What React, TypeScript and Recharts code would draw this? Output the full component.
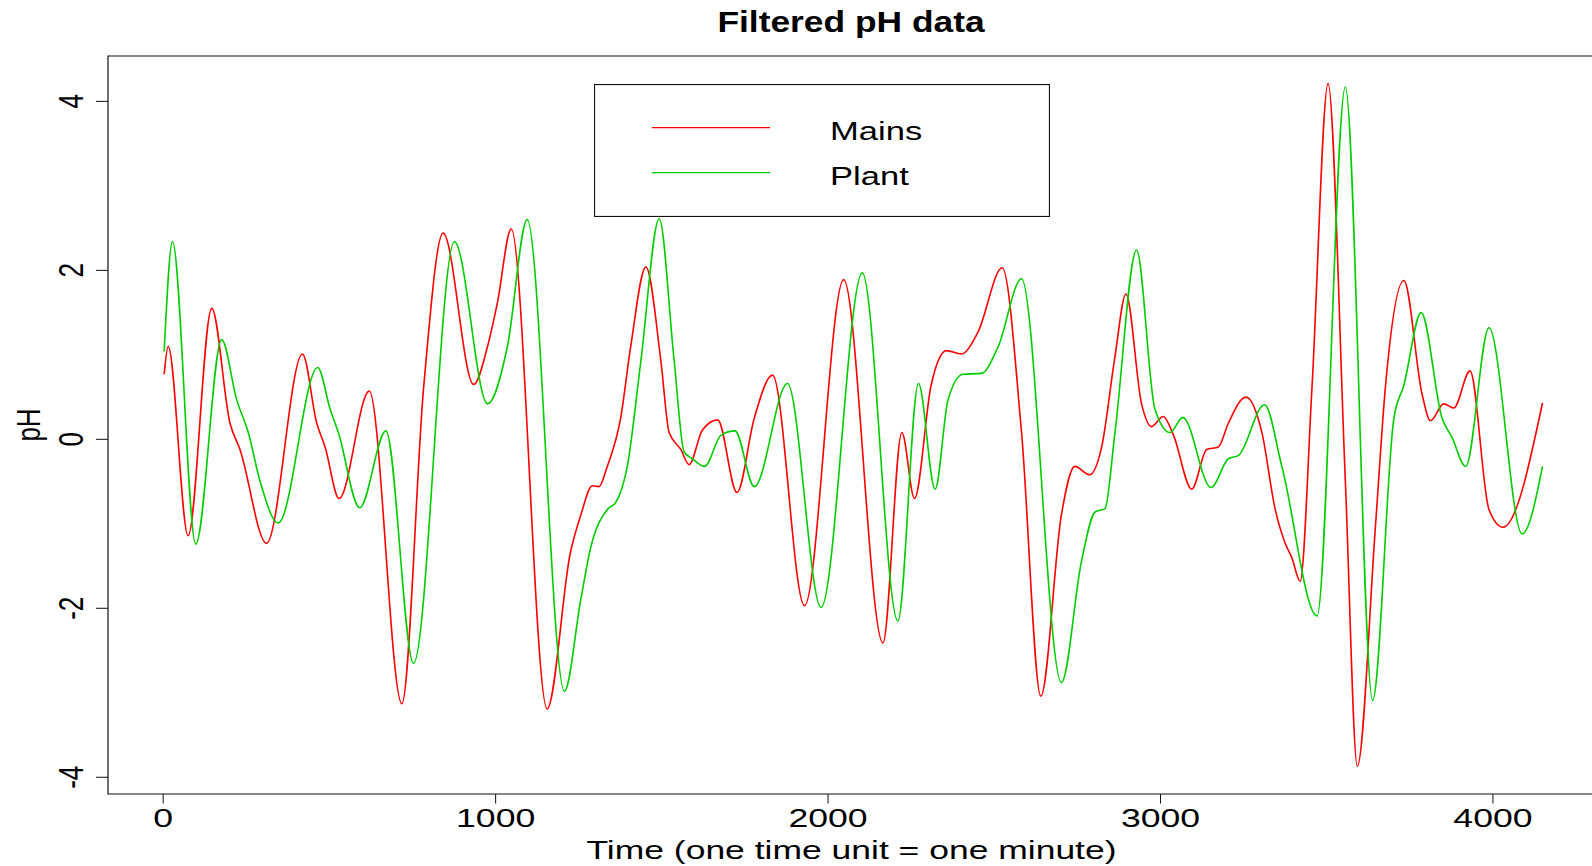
import React from "react";
import { LineChart, Line, XAxis, YAxis, Legend, ReferenceArea, Label } from "recharts";

// filtered pH series (time in minutes)
const mainsTime = [
  3, 15, 75, 146, 201, 231, 311, 419, 462, 487, 529, 620, 718, 784, 842, 934, 975, 1005, 1047,
  1155, 1225, 1256, 1291, 1311, 1336, 1376, 1406, 1452, 1497, 1522, 1557, 1582, 1622, 1668,
  1726, 1778, 1833, 1929, 2047, 2165, 2222, 2260, 2310, 2356, 2401, 2451, 2524, 2582, 2640,
  2702, 2742, 2787, 2823, 2863, 2896, 2943, 2973, 3008, 3039, 3094, 3139, 3174, 3204, 3257,
  3305, 3345, 3375, 3395, 3420, 3456, 3504, 3556, 3592, 3646, 3677, 3732, 3787, 3812, 3852,
  3882, 3931, 3988, 4030, 4149,
];
const mainsPh = [
  0.77, 1.1, -1.14, 1.55, 0.19, -0.12, -1.23, 1.01, 0.19, -0.09, -0.7, 0.57, -3.13, 0.64, 2.44,
  0.65, 1.09, 1.61, 2.49, -3.19, -1.34, -0.9, -0.55, -0.56, -0.32, 0.25, 1.09, 2.04, 0.93, 0.08,
  -0.12, -0.3, 0.11, 0.23, -0.63, 0.25, 0.76, -1.97, 1.89, -2.41, 0.08, -0.7, 0.64, 1.05, 1.01,
  1.27, 2.03, 0.08, -3.04, -0.89, -0.32, -0.42, -0.09, 0.98, 1.72, 0.42, 0.15, 0.27, 0.05, -0.59,
  -0.12, -0.09, 0.19, 0.5, 0.08, -0.83, -1.23, -1.4, -1.68, 0.64, 4.21, -0.49, -3.87, -1.06,
  0.64, 1.88, 0.53, 0.22, 0.42, 0.37, 0.81, -0.83, -1.04, 0.43,
];
const plantTime = [
  3, 28, 98, 176, 221, 256, 291, 346, 465, 502, 527, 591, 670, 753, 876, 976, 1035, 1095, 1207,
  1256, 1286, 1336, 1361, 1396, 1437, 1492, 1537, 1567, 1592, 1629, 1678, 1720, 1778, 1878,
  1979, 2103, 2210, 2272, 2322, 2361, 2406, 2461, 2511, 2582, 2702, 2762, 2803, 2833, 2863,
  2928, 2983, 3029, 3067, 3152, 3204, 3235, 3313, 3365, 3471, 3556, 3638, 3702, 3732, 3784,
  3847, 3877, 3918, 3988, 4088, 4149,
];
const plantPh = [
  1.04, 2.34, -1.24, 1.18, 0.47, 0.08, -0.49, -0.99, 0.85, 0.36, 0.08, -0.81, 0.1, -2.65, 2.34,
  0.42, 1.09, 2.6, -2.98, -1.9, -1.28, -0.83, -0.75, -0.32, 0.93, 2.61, 0.93, -0.15, -0.23,
  -0.32, 0.05, 0.1, -0.56, 0.66, -1.99, 1.97, -2.15, 0.66, -0.59, 0.47, 0.77, 0.78, 1.09, 1.9,
  -2.88, -1.45, -0.86, -0.82, 0.08, 2.24, 0.36, 0.08, 0.26, -0.57, -0.23, -0.19, 0.41, -0.32,
  -2.09, 4.17, -3.09, 0.25, 0.64, 1.5, 0.25, 0.02, -0.32, 1.32, -1.12, -0.32,
];

const timeTicks = [0, 1000, 2000, 3000, 4000];
const phTicks = [-4, -2, 0, 2, 4];
const timeDomain: [number, number] = [-166, 4316];
const phDomain: [number, number] = [-4.198, 4.537];

const mainsData = mainsTime.map((t, i) => ({ t, ph: mainsPh[i] }));
const plantData = plantTime.map((t, i) => ({ t, ph: plantPh[i] }));

const FONT = "'Liberation Sans', Arial, Helvetica, sans-serif";
const WIDE = 1.37; // the original picture is stretched sideways

const TimeTick = (props: any) => {
  const { x, y, payload } = props;
  return (
    <text
      transform={`translate(${x},${y + 19}) scale(${WIDE},1)`}
      textAnchor="middle"
      fontFamily={FONT}
      fontSize={26}
      fill="#000"
    >
      {payload.value}
    </text>
  );
};

const PhTick = (props: any) => {
  const { x, y, payload } = props;
  return (
    <text
      transform={`translate(${x},${y}) rotate(-90) scale(1,${WIDE})`}
      textAnchor="middle"
      fontFamily={FONT}
      fontSize={26}
      fill="#000"
    >
      {payload.value}
    </text>
  );
};

const TimeLabel = (props: any) => {
  const { x, y, width } = props.viewBox;
  return (
    <text
      transform={`translate(${x + width / 2 - 1.5},${y + 65}) scale(1.365,1)`}
      textAnchor="middle"
      fontFamily={FONT}
      fontSize={26}
      fill="#000"
    >
      Time (one time unit = one minute)
    </text>
  );
};

const PhLabel = (props: any) => {
  const { y, height } = props.viewBox;
  return (
    <text
      transform={`translate(39.5,${y + height / 2}) rotate(-90) scale(1,1.3)`}
      textAnchor="middle"
      fontFamily={FONT}
      fontSize={26}
      fill="#000"
    >
      pH
    </text>
  );
};

const renderLegend = (props: any) => {
  const items = props.payload || [];
  return (
    <svg width={456} height={133} style={{ display: "block" }}>
      <rect x={0.5} y={0.5} width={455} height={132} fill="none" stroke="#111" strokeWidth={1.2} />
      {items.map((item: any, i: number) => (
        <g key={item.value}>
          <line
            x1={58}
            x2={176}
            y1={43.6 + i * 45}
            y2={43.6 + i * 45}
            stroke={item.color}
            strokeWidth={1.3}
          />
          <text
            transform={`translate(236,${55.6 + i * 45}) scale(1.33,1)`}
            fontFamily={FONT}
            fontSize={26}
            fill="#000"
          >
            {item.value}
          </text>
        </g>
      ))}
    </svg>
  );
};

export default function App() {
  return (
    <div
      style={{
        position: "absolute",
        left: 0,
        top: 0,
        width: 1592,
        height: 866,
        overflow: "hidden",
        background: "#fff",
      }}
    >
      <svg
        width={1592}
        height={50}
        style={{ position: "absolute", left: 0, top: 0, zIndex: 2, pointerEvents: "none" }}
      >
        <text
          transform="translate(851,32) scale(1.22,1)"
          textAnchor="middle"
          fontFamily={FONT}
          fontSize={29}
          fontWeight="bold"
          fill="#000"
        >
          Filtered pH data
        </text>
      </svg>
      <LineChart width={1640} height={866} margin={{ top: 56, right: 42, bottom: 0, left: 0 }}>
        <XAxis
          type="number"
          dataKey="t"
          domain={timeDomain}
          ticks={timeTicks}
          allowDataOverflow
          height={72}
          axisLine={false}
          tickSize={9.5}
          tickMargin={4}
          tickLine={{ stroke: "#111" }}
          tick={<TimeTick />}
        >
          <Label content={<TimeLabel />} />
        </XAxis>
        <YAxis
          type="number"
          domain={phDomain}
          ticks={phTicks}
          allowDataOverflow
          width={108}
          axisLine={false}
          tickSize={12}
          tickMargin={13}
          tickLine={{ stroke: "#111" }}
          tick={<PhTick />}
        >
          <Label content={<PhLabel />} />
        </YAxis>
        <Line
          data={mainsData}
          dataKey="ph"
          name="Mains"
          type="monotone"
          stroke="#ff0000"
          strokeWidth={1.6}
          dot={false}
          activeDot={false}
          isAnimationActive={false}
        />
        <Line
          data={plantData}
          dataKey="ph"
          name="Plant"
          type="monotone"
          stroke="#00cd00"
          strokeWidth={1.6}
          dot={false}
          activeDot={false}
          isAnimationActive={false}
        />
        <ReferenceArea
          x1={timeDomain[0]}
          x2={timeDomain[1]}
          y1={phDomain[0]}
          y2={phDomain[1]}
          fill="none"
          stroke="#111"
          strokeWidth={1.2}
          ifOverflow="visible"
        />
        <Legend
          layout="horizontal"
          verticalAlign="middle"
          align="center"
          content={renderLegend}
          wrapperStyle={{ left: 594, top: 84, width: 456, height: 133 }}
        />
      </LineChart>
    </div>
  );
}
